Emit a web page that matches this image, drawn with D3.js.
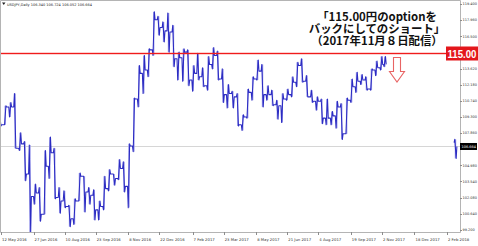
<!DOCTYPE html>
<html>
<head>
<meta charset="utf-8">
<script src="https://cdn.jsdelivr.net/npm/d3@7"></script>
<style>
  body { margin: 0; background: #fff; }
  svg { display: block; }
</style>
</head>
<body>
<div id="chart"></div>
<script>
// USDJPY weekly bars (week ending date, open, high, low, close)
const weekEnds = [
  "2016-05-13","2016-05-20","2016-05-27","2016-06-03","2016-06-10","2016-06-17","2016-06-24","2016-07-01",
  "2016-07-08","2016-07-15","2016-07-22","2016-07-29","2016-08-05","2016-08-12","2016-08-19","2016-08-26",
  "2016-09-02","2016-09-09","2016-09-16","2016-09-23","2016-09-30","2016-10-07","2016-10-14","2016-10-21",
  "2016-10-28","2016-11-04","2016-11-11","2016-11-18","2016-11-25","2016-12-02","2016-12-09","2016-12-16",
  "2016-12-23","2016-12-30","2017-01-06","2017-01-13","2017-01-20","2017-01-27","2017-02-03","2017-02-10",
  "2017-02-17","2017-02-24","2017-03-03","2017-03-10","2017-03-17","2017-03-24","2017-03-31","2017-04-07",
  "2017-04-14","2017-04-21","2017-04-28","2017-05-05","2017-05-12","2017-05-19","2017-05-26","2017-06-02",
  "2017-06-09","2017-06-16","2017-06-23","2017-06-30","2017-07-07","2017-07-14","2017-07-21","2017-07-28",
  "2017-08-04","2017-08-11","2017-08-18","2017-08-25","2017-09-01","2017-09-08","2017-09-15","2017-09-22",
  "2017-09-29","2017-10-06","2017-10-13","2017-10-20","2017-10-27","2017-11-03","2017-11-08",
  "2018-02-16"
];
const opens = [
  108.9,108.6,110.2,110.2,106.5,106.9,104.2,102.2, 102.5,100.6,104.9,106.1,102.1,101.8,101.3,100.2,
  101.8,104.0,102.6,102.3,101.0,101.3,102.9,104.2, 103.8,104.7,103.1,106.7,110.9,113.2,113.5,115.3,
  118.0,117.3,117.0,116.9,114.5,114.6,115.1,112.6, 113.2,112.9,112.1,114.0,114.8,112.7,111.3,111.4,
  111.1,108.6,109.3,111.5,112.7,113.4,111.3,111.3, 110.4,110.3,110.9,111.3,112.4,113.9,112.5,111.1,
  110.7,110.7,109.2,109.2,109.4,110.2,107.8,110.8, 112.0,112.5,112.6,111.8,113.5,113.7,114.0,
  107.0
];
const highs = [
  109.5,110.3,110.6,111.4,107.9,107.1,106.8,103.3, 103.0,106.3,107.5,106.5,103.0,102.7,101.4,102.0,
  104.3,104.0,103.0,102.8,101.8,104.0,104.6,104.2, 105.5,105.3,106.9,111.0,113.9,114.8,115.4,118.7,
  118.3,117.8,118.6,117.5,115.1,115.4,115.3,113.9, 115.0,113.7,114.7,115.5,115.2,113.6,112.2,111.6,
  111.4,109.5,111.8,112.9,114.4,114.0,112.1,111.7, 110.8,111.4,111.8,112.9,114.2,114.5,113.0,111.7,
  111.1,110.9,110.9,109.8,110.7,110.5,111.0,112.7, 113.3,113.1,112.9,113.6,114.3,114.7,114.7,
  107.3
];
const lows = [
  108.5,108.6,109.3,106.5,106.3,103.6,99.0,101.5, 99.99,100.6,103.8,102.0,100.7,101.2,99.5,99.7,
  101.8,100.8,101.5,100.1,100.1,101.0,102.7,103.2, 103.7,102.6,101.2,106.2,110.2,111.4,112.9,114.8,
  116.6,116.0,115.1,113.8,112.6,112.5,112.1,111.6, 112.6,112.0,111.7,113.6,112.6,110.6,110.1,110.1,
  108.5,108.1,109.2,110.8,112.6,110.2,110.8,110.3, 109.1,108.8,110.8,111.1,112.0,112.4,111.1,110.6,
  109.9,108.7,108.6,108.6,108.3,107.3,107.8,110.6, 111.5,112.2,111.7,111.7,113.0,113.5,113.8,
  105.6
];
const closes = [
  108.6,110.2,110.2,106.5,106.9,104.2,102.2,102.5, 100.6,104.9,106.1,102.1,101.8,101.3,100.2,101.8,
  104.0,102.6,102.3,101.0,101.3,102.9,104.2,103.8, 104.7,103.1,106.7,110.9,113.2,113.5,115.3,118.0,
  117.3,117.0,116.9,114.5,114.6,115.1,112.6,113.2, 112.9,112.1,114.0,114.8,112.7,111.3,111.4,111.1,
  108.6,109.3,111.5,112.7,113.4,111.3,111.3,110.4, 110.3,110.9,111.3,112.4,113.9,112.5,111.1,110.7,
  110.7,109.2,109.2,109.4,110.2,107.8,110.8,112.0, 112.5,112.6,111.8,113.5,113.7,114.0,114.0,
  106.66
];

// axis labels as shown by the terminal
const xTickLabels = ["12 May 2016","27 Jun 2016","10 Aug 2016","23 Sep 2016","8 Nov 2016","22 Dec 2016",
  "7 Feb 2017","23 Mar 2017","8 May 2017","21 Jun 2017","4 Aug 2017","19 Sep 2017","2 Nov 2017",
  "18 Dec 2017","2 Feb 2018"];
const yTickLabels = ["119.400","117.960","116.500","113.620","112.180","110.740","109.300","107.860",
  "104.980","103.540","102.080","100.640","99.200"];

const headerText = "USDJPY,Daily  106.340 106.724 106.052 106.664";
const lastPrice = 106.664;
const optionLevel = 115.00;
const noteLines = ["「115.00円のoptionを", "バックにしてのショート」", "（2017年11月８日配信）"];

const W = 478, H = 246;
const plotR = 460, plotB = 232;

const parseDay = d3.timeParse("%Y-%m-%d");
const parseTick = d3.timeParse("%e %b %Y");
const tickDates = xTickLabels.map(s => parseTick(s));

const x = d3.scaleTime()
  .domain([tickDates[0], tickDates[tickDates.length - 1]])
  .range([1, 447]);
const y = d3.scaleLinear().domain([99.2, 119.4]).range([230, 4]);

const svg = d3.select("#chart").append("svg")
  .attr("width", W).attr("height", H)
  .style("font-family", "'DejaVu Sans', sans-serif");

svg.append("defs").append("clipPath").attr("id", "plot")
  .append("rect").attr("x", 1).attr("y", 1).attr("width", plotR - 1).attr("height", plotB - 1);

// frame
svg.append("path")
  .attr("d", `M0.5,${plotB + 0.5} V0.5 H${plotR + 0.5} V${plotB + 0.5} H0.5`)
  .attr("fill", "none").attr("stroke", "#b4b4b4").attr("stroke-width", 1);

// current price line
svg.append("line")
  .attr("x1", 1).attr("x2", plotR)
  .attr("y1", Math.round(y(lastPrice)) + 0.5).attr("y2", Math.round(y(lastPrice)) + 0.5)
  .attr("stroke", "#d6d6d6");

// price path: each week as open -> high/low -> low/high -> close
const bars = weekEnds.map((d, i) => ({
  date: parseDay(d), o: opens[i], h: highs[i], l: lows[i], c: closes[i]
}));
const segments = [[]];
bars.forEach((b, i) => {
  if (i > 0 && (b.date - bars[i - 1].date) > 20 * 864e5) segments.push([]);
  const day = k => d3.timeDay.offset(b.date, k);
  const mid = b.c >= b.o ? [b.l, b.h] : [b.h, b.l];
  const seg = segments[segments.length - 1];
  seg.push([day(-4), b.o], [day(-3), mid[0]], [day(-1), mid[1]], [day(0), b.c]);
});

const line = d3.line().x(p => x(p[0])).y(p => y(p[1]));
const g = svg.append("g").attr("clip-path", "url(#plot)");

// light high-low wicks
g.selectAll("line.wick").data(bars).join("line")
  .attr("class", "wick")
  .attr("x1", b => x(d3.timeDay.offset(b.date, -2))).attr("x2", b => x(d3.timeDay.offset(b.date, -2)))
  .attr("y1", b => y(b.h)).attr("y2", b => y(b.l))
  .attr("stroke", "#9898ea").attr("stroke-width", 1.4);

g.selectAll("path.price").data(segments).join("path")
  .attr("class", "price")
  .attr("d", line).attr("fill", "none")
  .attr("stroke", "#2c2cc2").attr("stroke-width", 1.05).attr("stroke-linejoin", "round");

// bottom axis: ticks and date labels
const xt = svg.append("g");
xt.selectAll("line").data(tickDates).join("line")
  .attr("x1", d => Math.round(x(d)) + 0.5).attr("x2", d => Math.round(x(d)) + 0.5)
  .attr("y1", plotB).attr("y2", plotB + 3)
  .attr("stroke", "#8c8c8c");
xt.selectAll("text").data(xTickLabels).join("text")
  .attr("x", (d, i) => x(tickDates[i]) + 1)
  .attr("y", plotB + 9)
  .attr("font-size", 3.8)
  .attr("fill", "#333")
  .text(d => d);

// right axis: ticks and price labels
const yt = svg.append("g");
yt.selectAll("line").data(yTickLabels).join("line")
  .attr("x1", plotR).attr("x2", plotR + 2)
  .attr("y1", d => Math.round(y(+d)) + 0.5).attr("y2", d => Math.round(y(+d)) + 0.5)
  .attr("stroke", "#8c8c8c");
yt.selectAll("text").data(yTickLabels).join("text")
  .attr("x", plotR + 2.5)
  .attr("y", d => y(+d) + 1.3)
  .attr("font-size", 3.5)
  .attr("fill", "#333")
  .text(d => d);

// current price tag
const lp = svg.append("g").attr("transform", `translate(${plotR},${y(lastPrice)})`);
lp.append("rect").attr("x", 0).attr("y", -3.5).attr("width", 17).attr("height", 7).attr("fill", "#000");
lp.append("text").attr("x", 1.5).attr("y", 1.3).attr("font-size", 3.5).attr("fill", "#fff")
  .text(d3.format(".3f")(lastPrice));

// header
svg.append("path").attr("d", "M2,2.5 H5.5 L3.75,5 Z").attr("fill", "#222");
svg.append("text").attr("x", 7).attr("y", 5.5).attr("font-size", 3.5).attr("fill", "#222")
  .text(headerText);

// option level line and tag
const yo = Math.round(y(optionLevel));
svg.append("rect")
  .attr("x", 1).attr("y", yo - 0.2).attr("width", 445).attr("height", 1.4)
  .attr("fill", "#f01c1c");
svg.append("rect")
  .attr("x", 446).attr("y", yo - 6.5).attr("width", 32).attr("height", 14)
  .attr("fill", "#e3161b");
svg.append("text")
  .attr("x", 462).attr("y", yo + 5)
  .attr("text-anchor", "middle")
  .attr("font-family", "'Liberation Sans', Arial, sans-serif")
  .attr("font-weight", "bold").attr("font-size", 11.5)
  .attr("textLength", 29).attr("lengthAdjust", "spacingAndGlyphs")
  .attr("fill", "#fff")
  .text(d3.format(".2f")(optionLevel));

// note
svg.append("g").selectAll("text").data(noteLines).join("text")
  .attr("x", 377)
  .attr("y", (d, i) => 21 + i * 11.8)
  .attr("text-anchor", "middle")
  .attr("font-family", "'Noto Sans CJK JP', sans-serif")
  .attr("font-weight", "bold").attr("font-size", 11.4)
  .attr("fill", "#111")
  .text(d => d);

// hollow down arrow
svg.append("path")
  .attr("d", "M393.5,57.5 H400.5 V71.5 H404.5 L397,82 L389.5,71.5 H393.5 Z")
  .attr("fill", "#fff").attr("stroke", "#e86464").attr("stroke-width", 1.1)
  .attr("stroke-linejoin", "miter");
</script>
</body>
</html>
